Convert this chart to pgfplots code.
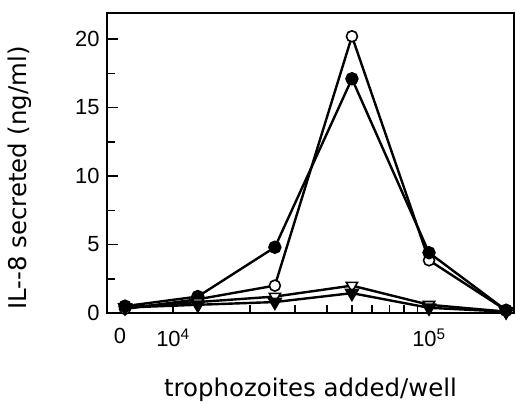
\documentclass[border=0pt]{standalone}
\usepackage{fontspec}
\setmainfont{Liberation Sans}
\newfontfamily\labfont{DejaVu Sans}
\usepackage{pgfplots}
\pgfplotsset{compat=1.18}
\begin{document}
\begin{tikzpicture}
\begin{axis}[
  name=ax,
  scale only axis,
  width=407bp, height=300bp,
  xmode=log,
  xmin=5524, xmax=2.148e5,
  ymin=0, ymax=21.9,
  /pgf/number format/assume math mode=true,
  axis line style={line width=1.8bp},
  tick style={line width=1.5bp, black},
  tick align=inside,
  major tick length=11bp,
  minor tick length=8bp,
  xtick={1e4,1e5},
  xticklabels={10\textsuperscript{4},10\textsuperscript{5}},
  extra x ticks={6210},
  extra x tick labels={0},
  extra x tick style={major tick length=0pt},
  ytick={0,5,10,15,20},
  minor y tick num=1,
  xtick pos=bottom, ytick pos=left,
  tick label style={font=\fontsize{22}{22}\selectfont},
  xticklabel style={yshift=-12bp},
  yticklabel style={xshift=-4bp},
  every axis x label/.style={at={(axis description cs:0.5,-0.277)}, anchor=base},
  every axis y label/.style={at={(axis description cs:-0.215,0.45)}, rotate=90, anchor=center},
  label style={font=\labfont\fontsize{24.5}{24.5}\selectfont},
  xlabel={trophozoites added/well},
  ylabel={IL--8 secreted (ng/ml)},
  clip=false,
  every axis plot/.append style={line width=2.4bp, black},
  mark size=5.5bp,
]
% open circles
\addplot[mark=*, mark options={fill=white, line width=1.6bp}] coordinates {
 (6494,0.3) (12500,1.0) (25000,2.0) (50000,20.2) (100000,3.85) (200000,0.2)};
% filled circles
\addplot[mark=*, mark options={fill=black}] coordinates {
 (6494,0.5) (12500,1.2) (25000,4.8) (50000,17.1) (100000,4.4) (200000,0.2)};
% open down triangles
\addplot[mark=triangle*, mark size=6.5bp, mark options={fill=white, line width=1.6bp, rotate=180}] coordinates {
 (6494,0.4) (12500,0.8) (25000,1.2) (50000,2.0) (100000,0.6) (200000,0.1)};
% filled down triangles
\addplot[mark=triangle*, mark size=6.5bp, mark options={fill=black, rotate=180}] coordinates {
 (6494,0.4) (12500,0.6) (25000,0.8) (50000,1.45) (100000,0.38) (200000,0.1)};
\end{axis}
\path (ax.south west) +(-107bp,-88bp) (ax.north east) +(1bp,13bp);
\end{tikzpicture}
\end{document}
